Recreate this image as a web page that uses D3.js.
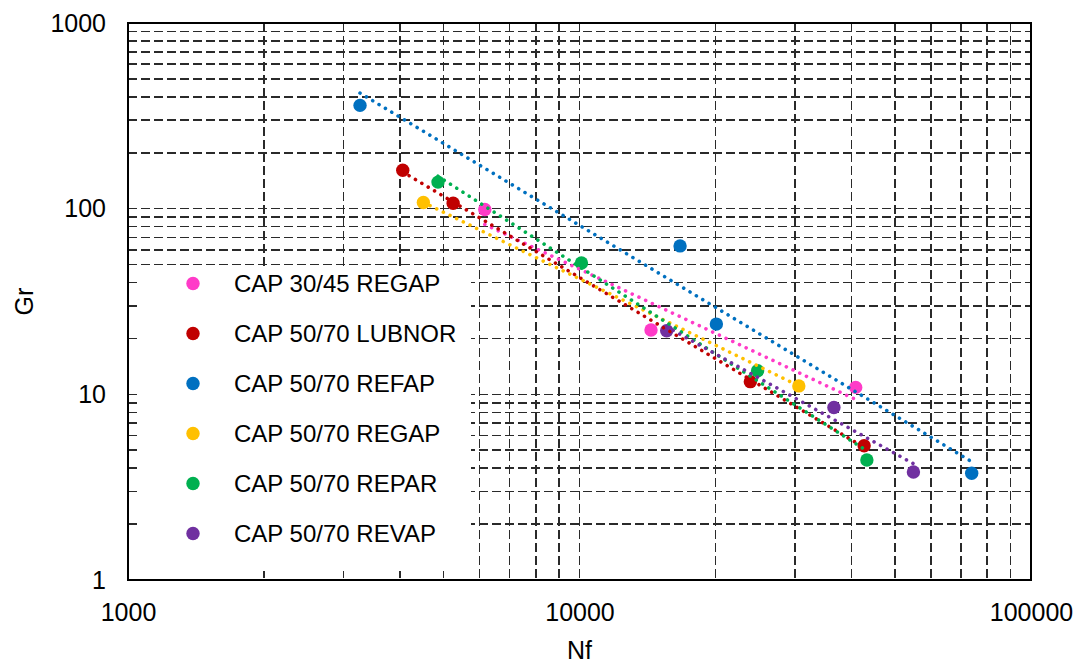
<!DOCTYPE html>
<html>
<head>
<meta charset="utf-8">
<script src="https://cdn.jsdelivr.net/npm/d3@7"></script>
<style>
  html, body { margin: 0; padding: 0; background: #fff; }
  svg { display: block; font-family: "Liberation Sans", Arial, sans-serif; }
</style>
</head>
<body>
<svg id="chart" width="1082" height="664"></svg>
<script>
// Fatigue life (Nf) against Gr for each binder
const seriesNames = [
  "CAP 30/45 REGAP",
  "CAP 50/70 LUBNOR",
  "CAP 50/70 REFAP",
  "CAP 50/70 REGAP",
  "CAP 50/70 REPAR",
  "CAP 50/70 REVAP"
];
const seriesColors = ["#FF3BC8", "#C00000", "#0070C0", "#FFC000", "#00B050", "#7030A0"];

const nfRegap3045 = [6170, 14400, 40900];
const grRegap3045 = [99, 22.2, 10.9];
const nfLubnor = [4060, 5250, 23900, 42700];
const grLubnor = [161, 107, 11.7, 5.29];
const nfRefap = [3265, 16700, 20100, 73900];
const grRefap = [360, 63, 23.9, 3.76];
const nfRegap = [4510, 30600];
const grRegap = [108, 11.1];
const nfRepar = [4860, 10100, 24800, 43300];
const grRepar = [139, 51, 13.4, 4.43];
const nfRevap = [15600, 36600, 54900];
const grRevap = [22, 8.5, 3.82];

const xTickLabels = [1000, 10000, 100000];
const yTickLabels = [1, 10, 100, 1000];

const nfSets = [nfRegap3045, nfLubnor, nfRefap, nfRegap, nfRepar, nfRevap];
const grSets = [grRegap3045, grLubnor, grRefap, grRegap, grRepar, grRevap];
const series = seriesNames.map((name, i) => ({
  name,
  color: seriesColors[i],
  points: nfSets[i].map((nf, j) => ({ nf, gr: grSets[i][j] }))
}));

const svg = d3.select("#chart");
const plotLeft = 128, plotRight = 1031, plotTop = 23, plotBottom = 580;

const x = d3.scaleLog().domain([1000, 100000]).range([plotLeft, plotRight]);
const y = d3.scaleLog().domain([1, 1000]).range([plotBottom, plotTop]);

// dashed grid at every major and minor log step
const grid = svg.append("g").attr("fill", "none").attr("stroke", "#2a2a2a")
  .attr("stroke-width", 1.6).attr("stroke-dasharray", "9,4")
  .attr("shape-rendering", "crispEdges");
const xGrid = x.ticks().filter(v => v > 1000 && v < 100000);
const yGrid = y.ticks().filter(v => v > 1 && v < 1000);
grid.selectAll("line.v").data(xGrid).join("line").attr("class", "v")
  .attr("x1", d => x(d)).attr("x2", d => x(d))
  .attr("y1", plotTop).attr("y2", plotBottom);
grid.selectAll("line.h").data(yGrid).join("line").attr("class", "h")
  .attr("x1", plotLeft).attr("x2", plotRight)
  .attr("y1", d => y(d)).attr("y2", d => y(d));

// legend background hides the grid behind it
svg.append("rect")
  .attr("x", 141).attr("y", 267).attr("width", 330).attr("height", 304)
  .attr("fill", "#fff");

// plot frame
svg.append("rect")
  .attr("x", plotLeft).attr("y", plotTop)
  .attr("width", plotRight - plotLeft).attr("height", plotBottom - plotTop)
  .attr("fill", "none").attr("stroke", "#000").attr("stroke-width", 2);

// axis labels
const xAxis = d3.axisBottom(x).tickValues(xTickLabels).tickSize(0).tickPadding(23)
  .tickFormat(d3.format("d"));
const yAxis = d3.axisLeft(y).tickValues(yTickLabels).tickSize(0).tickPadding(22)
  .tickFormat(d3.format("d"));
const gx = svg.append("g").attr("transform", `translate(0,${plotBottom})`).call(xAxis);
const gy = svg.append("g").attr("transform", `translate(${plotLeft},0)`).call(yAxis);
[gx, gy].forEach(g => {
  g.select(".domain").remove();
  g.selectAll("text").attr("font-size", 25).attr("fill", "#000")
    .attr("font-family", "Liberation Sans, Arial, sans-serif");
});

svg.append("text").attr("x", (plotLeft + plotRight) / 2).attr("y", 659)
  .attr("text-anchor", "middle").attr("font-size", 25).text("Nf");
svg.append("text").attr("transform", `translate(33,${(plotTop + plotBottom) / 2}) rotate(-90)`)
  .attr("text-anchor", "middle").attr("font-size", 25).text("Gr");

// markers
const marks = svg.append("g");
series.forEach(s => {
  marks.append("g").selectAll("circle").data(s.points).join("circle")
    .attr("cx", d => x(d.nf)).attr("cy", d => y(d.gr)).attr("r", 6.7)
    .attr("fill", s.color);
});

// power-law trendlines (least squares in log-log space)
function powerFit(points) {
  const lx = points.map(p => Math.log10(p.nf));
  const ly = points.map(p => Math.log10(p.gr));
  const mx = d3.mean(lx), my = d3.mean(ly);
  const b = d3.sum(lx, (v, i) => (v - mx) * (ly[i] - my)) / d3.sum(lx, v => (v - mx) ** 2);
  const a = my - b * mx;
  const [x0, x1] = d3.extent(points, p => p.nf);
  return [x0, x1].map(nf => ({ nf, gr: Math.pow(10, a + b * Math.log10(nf)) }));
}
const line = d3.line().x(d => x(d.nf)).y(d => y(d.gr));
const trends = svg.append("g").attr("fill", "none");
series.forEach(s => {
  trends.append("path").datum(powerFit(s.points)).attr("d", line)
    .attr("stroke", s.color).attr("stroke-width", 3.6)
    .attr("stroke-linecap", "round").attr("stroke-dasharray", "0.01,7.4");
});

// legend entries
const legend = svg.append("g");
const rows = legend.selectAll("g").data(series).join("g")
  .attr("transform", (d, i) => `translate(0,${283.5 + i * 50})`);
rows.append("circle").attr("cx", 193).attr("cy", 0).attr("r", 6.7).attr("fill", d => d.color);
rows.append("text").attr("x", 234).attr("y", 0).attr("dy", "0.35em")
  .attr("font-size", 24).attr("fill", "#000").text(d => d.name);
</script>
</body>
</html>
